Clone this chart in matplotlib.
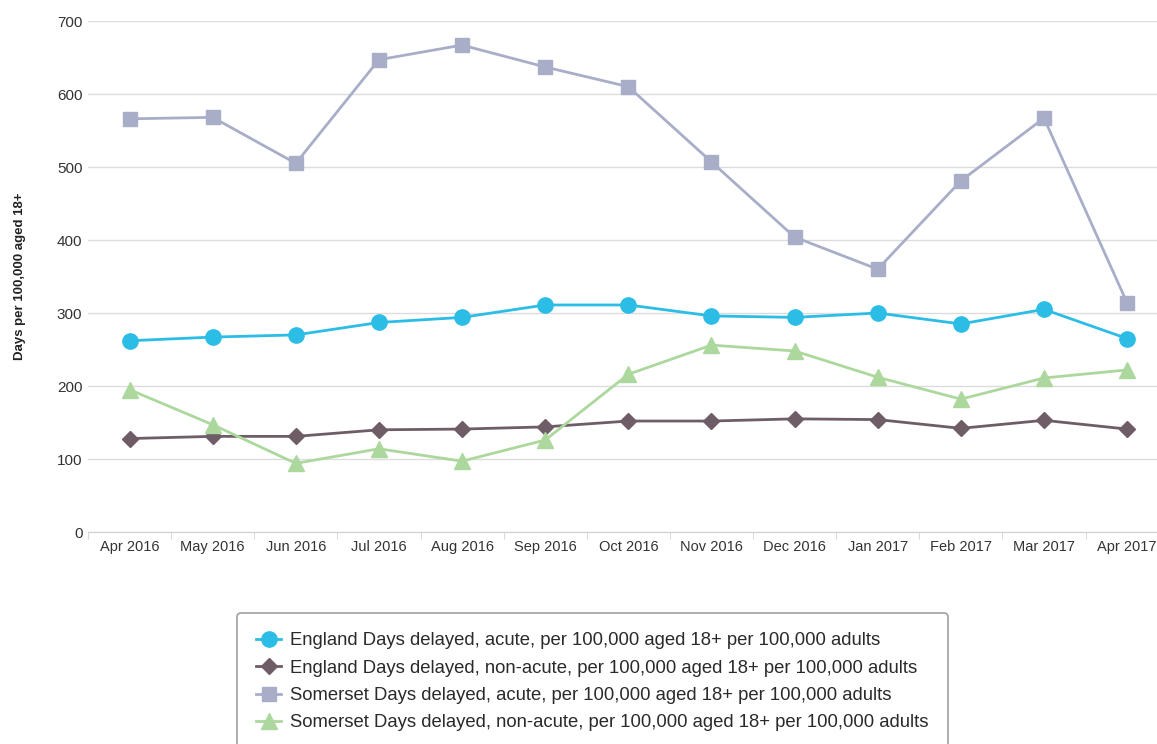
import matplotlib
matplotlib.use("Agg")
import matplotlib.pyplot as plt

months = ["Apr 2016", "May 2016", "Jun 2016", "Jul 2016", "Aug 2016", "Sep 2016",
          "Oct 2016", "Nov 2016", "Dec 2016", "Jan 2017", "Feb 2017", "Mar 2017", "Apr 2017"]
england_acute = [262, 267, 270, 287, 294, 311, 311, 296, 294, 300, 285, 305, 265]
england_nonacute = [128, 131, 131, 140, 141, 144, 152, 152, 155, 154, 142, 153, 141]
somerset_acute = [566, 568, 505, 647, 667, 637, 610, 507, 404, 360, 481, 567, 314]
somerset_nonacute = [195, 147, 94, 114, 97, 126, 216, 256, 248, 212, 182, 211, 222]

labels = [
    "England Days delayed, acute, per 100,000 aged 18+ per 100,000 adults",
    "England Days delayed, non-acute, per 100,000 aged 18+ per 100,000 adults",
    "Somerset Days delayed, acute, per 100,000 aged 18+ per 100,000 adults",
    "Somerset Days delayed, non-acute, per 100,000 aged 18+ per 100,000 adults",
]

plt.rcParams['font.family'] = ['Liberation Sans', 'DejaVu Sans']

fig = plt.figure(figsize=(11.57, 7.44), dpi=100)
ax = fig.add_axes([88/1157, 1-532/744, 1-88/1157, (532-21)/744])

x = list(range(len(months)))
ax.plot(x, england_acute, color="#2bbde6", marker="o", markersize=11, linewidth=2, label=labels[0], zorder=4)
ax.plot(x, england_nonacute, color="#6e5d66", marker="D", markersize=8.5, linewidth=2, label=labels[1], zorder=3)
ax.plot(x, somerset_acute, color="#a9aec8", marker="s", markersize=10.5, linewidth=2, label=labels[2], zorder=3)
ax.plot(x, somerset_nonacute, color="#acd89e", marker="^", markersize=11, linewidth=2, label=labels[3], zorder=3)

ax.set_ylim(0, 700)
ax.set_xlim(-0.5, 12.36)
ax.set_yticks(range(0, 701, 100))
ax.set_xticks(x)
ax.set_xticklabels(months)
ax.set_xticks([i + 0.5 for i in range(-1, 12)], minor=True)
ax.tick_params(axis='x', which='major', length=0, labelsize=10.5, colors="#333333", pad=6)
ax.tick_params(axis='x', which='minor', length=5, color="#d0d0d0")
ax.tick_params(axis='y', length=0, labelsize=11, colors="#333333", pad=4)
ax.grid(axis='y', color="#dcdcdc", linewidth=1)
ax.set_axisbelow(True)
for s in ['top', 'right', 'left']:
    ax.spines[s].set_visible(False)
ax.spines['bottom'].set_color("#d0d0d0")
ax.set_ylabel("Days per 100,000 aged 18+", fontsize=9.5, fontweight='bold', color="#222222")
ax.yaxis.set_label_coords(-0.058, 0.5)

leg = ax.legend(loc='upper left', bbox_to_anchor=(237/1157, 1-613/744), bbox_transform=fig.transFigure,
                fontsize=13.3, frameon=True, fancybox=True, edgecolor="#a0a0a0", framealpha=1,
                handlelength=1.35, handletextpad=0.45, labelspacing=0.56, borderpad=1.05, borderaxespad=0)
leg.get_frame().set_linewidth(1.2)
for t in leg.get_texts():
    t.set_color("#2a2a2a")

fig.savefig("out.png", dpi=100)
